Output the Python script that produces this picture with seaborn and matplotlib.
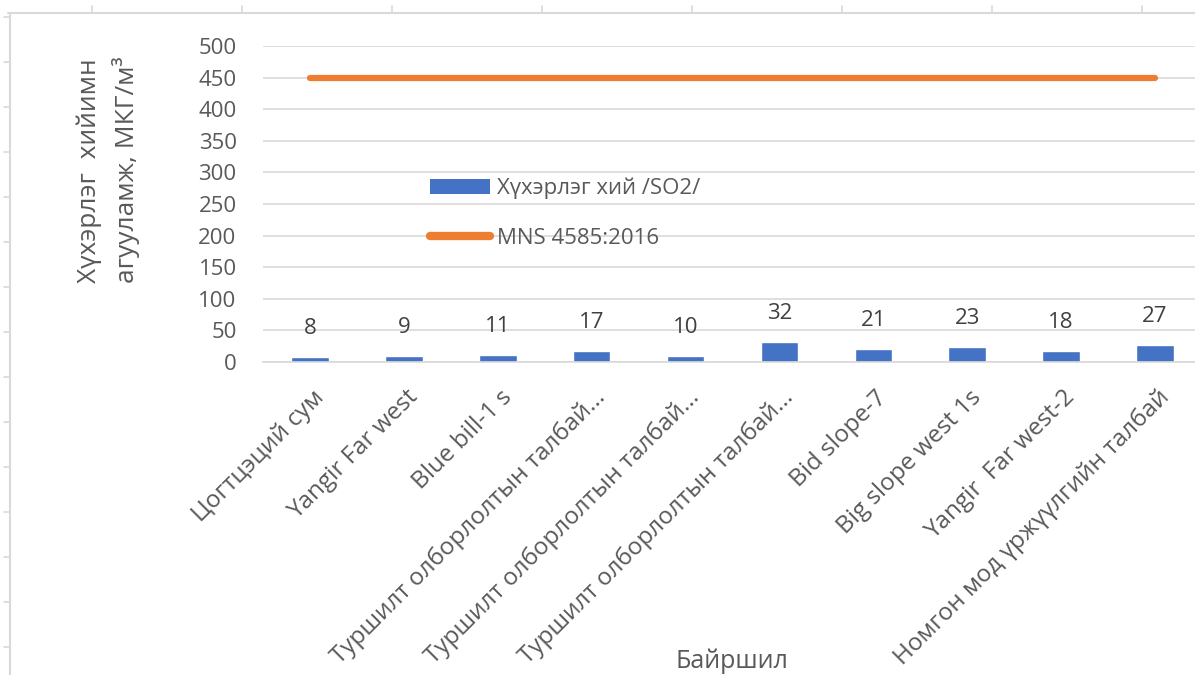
"""
plot.py - SO2 concentration by location (bar) vs. MNS 4585:2016 limit (line)
"""

import matplotlib
matplotlib.use("Agg")  # no window, save to file
import matplotlib.pyplot as plt
import matplotlib.transforms as mtransforms
from matplotlib.lines import Line2D
from matplotlib.patches import Patch
import seaborn as sns
import numpy as np

# ─── Data ─────────────────────────────────────────────────────────────────────
locations = [
    "Цогтцэций сум",
    "Yangir Far west",
    "Blue bill-1 s",
    "Туршилт олборлолтын талбай...",
    "Туршилт олборлолтын талбай...",
    "Туршилт олборлолтын талбай...",
    "Bid slope-7",
    "Big slope west 1s",
    "Yangir  Far west-2",
    "Номгон мод үржүүлгийн талбай",
]
so2_values = [8, 9, 11, 17, 10, 32, 21, 23, 18, 27]
mns_limit = [450, 450, 450, 450, 450, 450, 450, 450, 450, 450]
y_ticks = [0, 50, 100, 150, 200, 250, 300, 350, 400, 450, 500]

bar_label = "Хүхэрлэг хий /SO2/"
line_label = "MNS 4585:2016"
y_title = "Хүхэрлэг  хийимн\nагууламж, МКГ/м³"
x_title = "Байршил"

# ─── Style ────────────────────────────────────────────────────────────────────
BLUE = "#4472C4"
ORANGE = "#ED7D31"
GRID = "#D9D9D9"
TEXT = "#595959"
W, H = 1195, 675

sns.set_theme(style="white")
plt.rcParams["font.family"] = ["Open Sans", "DejaVu Sans"]

fig = plt.figure(figsize=(W / 100, H / 100), dpi=100)
ax = fig.add_axes([263 / W, 1 - 362 / H, 939 / W, 316 / H])

# some location names repeat, so the bars are placed by position
pos = np.arange(len(locations))
sns.barplot(x=pos, y=so2_values, color=BLUE, width=0.4,
            saturation=1, ax=ax)
sns.lineplot(x=pos, y=mns_limit, color=ORANGE,
             linewidth=4.5, solid_capstyle="round", ax=ax)

ax.bar_label(ax.containers[0], padding=13, fontsize=16, color="#404040")

ax.set_xlim(-0.5, len(locations) - 0.5)
ax.set_ylim(0, 500)
ax.set_yticks(y_ticks)
ax.set_xticks(pos)
ax.set_xticklabels(locations)
ax.yaxis.grid(True, color=GRID, linewidth=1.2)
ax.set_axisbelow(True)
for side in ["top", "right", "left"]:
    ax.spines[side].set_visible(False)
ax.spines["bottom"].set_color(GRID)
ax.spines["bottom"].set_linewidth(1.2)

ax.tick_params(axis="y", length=0, pad=19, labelsize=16, labelcolor=TEXT)
ax.tick_params(axis="x", length=0, pad=17, labelsize=17.5, labelcolor=TEXT)
offset = mtransforms.ScaledTranslation(2 / 100, 0, fig.dpi_scale_trans)
for lbl in ax.get_xticklabels():
    lbl.set_rotation(45)
    lbl.set_ha("right")
    lbl.set_rotation_mode("anchor")
    lbl.set_transform(lbl.get_transform() + offset)
ax.set_xlabel("")
ax.set_ylabel("")

# legend inside the plot area
handles = [Patch(facecolor=BLUE, edgecolor="none"),
           Line2D([0], [0], color=ORANGE, lw=6, solid_capstyle="round")]
ax.legend(handles, [bar_label, line_label], loc="center left",
          bbox_to_anchor=(0.178, 0.47), frameon=False, fontsize=16,
          borderpad=0, borderaxespad=0, handlelength=2.7,
          handletextpad=0.3, labelspacing=1.3, labelcolor=TEXT)

# axis titles
fig.text(108 / W, 1 - 170 / H, y_title, rotation=90, ha="center",
         va="center", multialignment="left", fontsize=19, color=TEXT,
         linespacing=1.45)
fig.text(732 / W, 1 - 668 / H, x_title, ha="center", va="baseline",
         fontsize=18, color=TEXT)

# spreadsheet frame visible in the screenshot
fig.add_artist(Line2D([8 / W, 1], [1 - 13 / H] * 2, transform=fig.transFigure,
                      color=GRID, lw=1.5))
fig.add_artist(Line2D([10 / W] * 2, [0, 1 - 13 / H], transform=fig.transFigure,
                      color=GRID, lw=1.5))
for px in range(92, W, 150):
    fig.add_artist(Line2D([px / W] * 2, [1 - 13 / H, 1 - 6 / H],
                          transform=fig.transFigure, color=GRID, lw=1.2))
for py in range(17, H, 45):
    fig.add_artist(Line2D([4 / W, 10 / W], [1 - py / H] * 2,
                          transform=fig.transFigure, color=GRID, lw=1.2))

fig.savefig("out.png", dpi=100)
plt.close(fig)
